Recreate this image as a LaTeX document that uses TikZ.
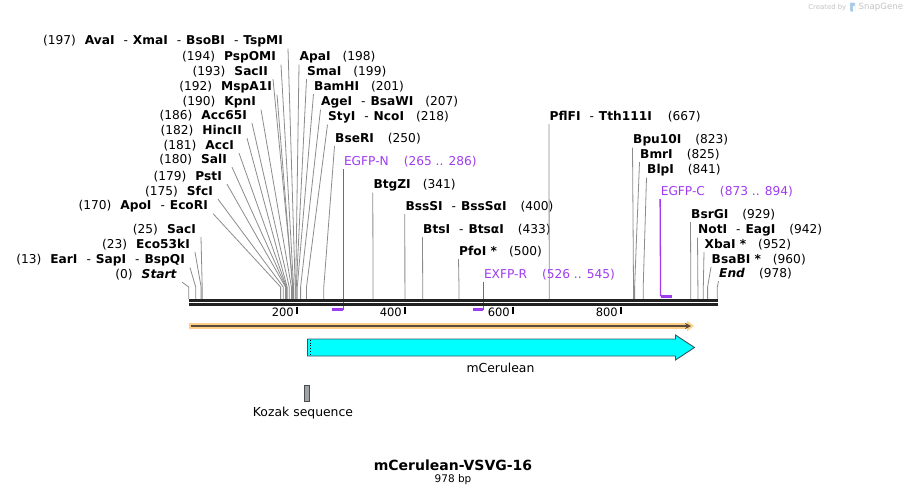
\documentclass[tikz,border=0pt]{standalone}
\usepackage{fontspec}
\setmainfont{DejaVu Sans}[ItalicFont={DejaVu Sans Oblique}, BoldItalicFont={DejaVu Sans Bold Oblique}]
\usepackage{tikz}
\usetikzlibrary{arrows.meta, calc}

\begin{document}
\begin{tikzpicture}[x=1pt, y=-1pt,
  enzL/.style={anchor=east, inner xsep=5pt, inner ysep=1.5pt, font=\fontsize{12.2}{14}\selectfont},
  enzR/.style={anchor=west, inner xsep=0.5pt, inner ysep=1.5pt, font=\fontsize{12.2}{14}\selectfont},
  primerlab/.style={enzR, text=primercol},
  cutline/.style={draw=cutgray, line width=0.8pt},
  primerline/.style={draw=primercol, line width=1.3pt},
  primerbar/.style={draw=primercol, line width=2.6pt},
  ticmark/.style={draw=black, line width=2pt},
  ticklab/.style={anchor=east, inner sep=0pt, font=\fontsize{11.5}{13}\selectfont},
  featlab/.style={inner sep=0pt, font=\fontsize{12.4}{14}\selectfont}]
% --- CORES ---
\definecolor{seqcol}{HTML}{222222}
\definecolor{cutgray}{HTML}{8C8C8C}
\definecolor{primercol}{HTML}{A03CF0}
\definecolor{orfcol}{HTML}{FCCF86}
\definecolor{orfdark}{HTML}{5A4A3C}
\definecolor{cerulean}{HTML}{00FFFF}
\definecolor{featedge}{HTML}{3A5560}
\definecolor{kozakcol}{HTML}{9EA3AA}
\definecolor{logogray}{HTML}{C4C4C4}
\definecolor{logoblue}{HTML}{A9CBE6}

% LAYER 1: fundo
\fill[white] (0,0) rectangle (907,496);
\useasboundingbox (0,0) rectangle (907,496);

% LAYER 2: cut sites (just above the sequence)
\coordinate (c0) at (188.7,287);
\coordinate (c13) at (195.7,287);
\coordinate (c23) at (201.1,287);
\coordinate (c25) at (202.2,287);
\coordinate (c170) at (280.6,287);
\coordinate (c175) at (283.3,287);
\coordinate (c179) at (285.5,287);
\coordinate (c180) at (286.0,287);
\coordinate (c181) at (286.5,287);
\coordinate (c182) at (287.1,287);
\coordinate (c186) at (289.2,287);
\coordinate (c190) at (291.4,287);
\coordinate (c192) at (292.5,287);
\coordinate (c193) at (293.0,287);
\coordinate (c194) at (293.6,287);
\coordinate (c197) at (295.2,287);
\coordinate (c198) at (295.7,287);
\coordinate (c199) at (296.3,287);
\coordinate (c201) at (297.3,287);
\coordinate (c207) at (300.6,287);
\coordinate (c218) at (306.5,287);
\coordinate (c250) at (323.8,287);
\coordinate (c341) at (373.0,287);
\coordinate (c400) at (404.9,287);
\coordinate (c433) at (422.7,287);
\coordinate (c500) at (459.0,287);
\coordinate (c667) at (549.2,287);
\coordinate (c823) at (633.5,287);
\coordinate (c825) at (634.6,287);
\coordinate (c841) at (643.2,287);
\coordinate (c929) at (690.8,287);
\coordinate (c942) at (697.9,287);
\coordinate (c952) at (703.3,287);
\coordinate (c960) at (707.6,287);
\coordinate (c978) at (717.3,287);
\coordinate (seqtop) at (0,299);

% LAYER 3: enzymes on the left
\node[enzL] (n197) at (288,41) {(197)\hspace{9pt}\textbf{AvaI}\hspace{9pt}-\hspace{5pt}\textbf{XmaI}\hspace{9pt}-\hspace{5pt}\textbf{BsoBI}\hspace{9pt}-\hspace{5pt}\textbf{TspMI}};
\node[enzL] (n194) at (281,57) {(194)\hspace{9pt}\textbf{PspOMI}};
\node[enzL] (n193) at (273,72) {(193)\hspace{9pt}\textbf{SacII}};
\node[enzL] (n192) at (277,87) {(192)\hspace{9pt}\textbf{MspA1I}};
\node[enzL] (n190) at (261,102) {(190)\hspace{9pt}\textbf{KpnI}};
\node[enzL] (n186) at (252,116) {(186)\hspace{9pt}\textbf{Acc65I}};
\node[enzL] (n182) at (247,131) {(182)\hspace{9pt}\textbf{HincII}};
\node[enzL] (n181) at (239,146) {(181)\hspace{9pt}\textbf{AccI}};
\node[enzL] (n180) at (232,160) {(180)\hspace{9pt}\textbf{SalI}};
\node[enzL] (n179) at (227,177) {(179)\hspace{9pt}\textbf{PstI}};
\node[enzL] (n175) at (218,192) {(175)\hspace{9pt}\textbf{SfcI}};
\node[enzL] (n170) at (213,206) {(170)\hspace{9pt}\textbf{ApoI}\hspace{9pt}-\hspace{5pt}\textbf{EcoRI}};
\node[enzL] (n25) at (201,230) {(25)\hspace{9pt}\textbf{SacI}};
\node[enzL] (n23) at (195,245) {(23)\hspace{9pt}\textbf{Eco53kI}};
\node[enzL] (n13) at (190,260) {(13)\hspace{9pt}\textbf{EarI}\hspace{9pt}-\hspace{5pt}\textbf{SapI}\hspace{9pt}-\hspace{5pt}\textbf{BspQI}};
\node[enzL] (n0) at (182,275) {(0)\hspace{9pt}\textbf{\textit{Start}}};

% LAYER 4: enzymes on the right
\node[enzR] (n198) at (299,57) {\textbf{ApaI}\hspace{12pt}(198)};
\node[enzR] (n199) at (306.5,72) {\textbf{SmaI}\hspace{12pt}(199)};
\node[enzR] (n201) at (313.5,87) {\textbf{BamHI}\hspace{12pt}(201)};
\node[enzR] (n207) at (320.5,102) {\textbf{AgeI}\hspace{9pt}-\hspace{5pt}\textbf{BsaWI}\hspace{12pt}(207)};
\node[enzR] (n218) at (327.5,117) {\textbf{StyI}\hspace{9pt}-\hspace{5pt}\textbf{NcoI}\hspace{12pt}(218)};
\node[enzR] (n250) at (334.5,139) {\textbf{BseRI}\hspace{14pt}(250)};
\node[enzR] (n341) at (372.8,185) {\textbf{BtgZI}\hspace{12pt}(341)};
\node[enzR] (n400) at (404.8,207) {\textbf{BssSI}\hspace{9pt}-\hspace{5pt}\textbf{BssSαI}\hspace{14pt}(400)};
\node[enzR] (n433) at (422.5,230) {\textbf{BtsI}\hspace{9pt}-\hspace{5pt}\textbf{BtsαI}\hspace{14pt}(433)};
\node[enzR] (n500) at (458.5,252) {\textbf{PfoI *}\hspace{12pt}(500)};
\node[enzR] (n667) at (549,117) {\textbf{PflFI}\hspace{9pt}-\hspace{5pt}\textbf{Tth111I}\hspace{16pt}(667)};
\node[enzR] (n823) at (632.5,140) {\textbf{Bpu10I}\hspace{14pt}(823)};
\node[enzR] (n825) at (639.5,155) {\textbf{BmrI}\hspace{14pt}(825)};
\node[enzR] (n841) at (646.5,170) {\textbf{BlpI}\hspace{14pt}(841)};
\node[enzR] (n929) at (690.5,215) {\textbf{BsrGI}\hspace{14pt}(929)};
\node[enzR] (n942) at (697.5,230) {\textbf{NotI}\hspace{9pt}-\hspace{5pt}\textbf{EagI}\hspace{14pt}(942)};
\node[enzR] (n952) at (704,245) {\textbf{XbaI *}\hspace{12pt}(952)};
\node[enzR] (n960) at (711,260) {\textbf{BsaBI *}\hspace{12pt}(960)};
\node[enzR] (n978) at (718.5,274) {\textbf{\textit{End}}\hspace{14pt}(978)};

% LAYER 5: primers
\node[primerlab] (pEGFPN) at (343.3,162) {EGFP-N\hspace{15pt}(265 .. 286)};
\node[primerlab] (pEXFPR) at (483.3,275) {EXFP-R\hspace{15pt}(526 .. 545)};
\node[primerlab] (pEGFPC) at (660.1,192) {EGFP-C\hspace{15pt}(873 .. 894)};
\coordinate (b265) at (331.9,309.5);
\coordinate (b286) at (343.3,309.5);
\coordinate (b526) at (473.0,309.5);
\coordinate (b545) at (483.3,309.5);
\coordinate (b873) at (660.6,296.3);
\coordinate (b894) at (671.9,296.3);
\draw[primerline] (pEGFPN.south west) -- (b286);
\draw[primerbar] (b265) -- (b286);
\draw[primerline] (pEXFPR.south west) -- (b545);
\draw[primerbar] (b526) -- (b545);
\draw[primerline] (pEGFPC.south west) -- (b873);
\draw[primerbar] (b873) -- (b894);

% LAYER 6: cut lines
\draw[cutline] (n197.south east) -- (c197) -- (c197 |- seqtop);
\draw[cutline] (n194.south east) -- (c194) -- (c194 |- seqtop);
\draw[cutline] (n193.south east) -- (c193) -- (c193 |- seqtop);
\draw[cutline] (n192.south east) -- (c192) -- (c192 |- seqtop);
\draw[cutline] (n190.south east) -- (c190) -- (c190 |- seqtop);
\draw[cutline] (n186.south east) -- (c186) -- (c186 |- seqtop);
\draw[cutline] (n182.south east) -- (c182) -- (c182 |- seqtop);
\draw[cutline] (n181.south east) -- (c181) -- (c181 |- seqtop);
\draw[cutline] (n180.south east) -- (c180) -- (c180 |- seqtop);
\draw[cutline] (n179.south east) -- (c179) -- (c179 |- seqtop);
\draw[cutline] (n175.south east) -- (c175) -- (c175 |- seqtop);
\draw[cutline] (n170.south east) -- (c170) -- (c170 |- seqtop);
\draw[cutline] (n25.south east) -- (c25) -- (c25 |- seqtop);
\draw[cutline] (n23.south east) -- (c23) -- (c23 |- seqtop);
\draw[cutline] (n13.south east) -- (c13) -- (c13 |- seqtop);
\draw[cutline] (n0.south east) -- (c0) -- (c0 |- seqtop);
\draw[cutline] (n198.south west) -- (c198) -- (c198 |- seqtop);
\draw[cutline] (n199.south west) -- (c199) -- (c199 |- seqtop);
\draw[cutline] (n201.south west) -- (c201) -- (c201 |- seqtop);
\draw[cutline] (n207.south west) -- (c207) -- (c207 |- seqtop);
\draw[cutline] (n218.south west) -- (c218) -- (c218 |- seqtop);
\draw[cutline] (n250.south west) -- (c250) -- (c250 |- seqtop);
\draw[cutline] (n341.south west) -- (c341) -- (c341 |- seqtop);
\draw[cutline] (n400.south west) -- (c400) -- (c400 |- seqtop);
\draw[cutline] (n433.south west) -- (c433) -- (c433 |- seqtop);
\draw[cutline] (n500.south west) -- (c500) -- (c500 |- seqtop);
\draw[cutline] (n667.south west) -- (c667) -- (c667 |- seqtop);
\draw[cutline] (n823.south west) -- (c823) -- (c823 |- seqtop);
\draw[cutline] (n825.south west) -- (c825) -- (c825 |- seqtop);
\draw[cutline] (n841.south west) -- (c841) -- (c841 |- seqtop);
\draw[cutline] (n929.south west) -- (c929) -- (c929 |- seqtop);
\draw[cutline] (n942.south west) -- (c942) -- (c942 |- seqtop);
\draw[cutline] (n952.south west) -- (c952) -- (c952 |- seqtop);
\draw[cutline] (n960.south west) -- (c960) -- (c960 |- seqtop);
\draw[cutline] (n978.south west) -- (c978) -- (c978 |- seqtop);

% LAYER 7: sequence (double line) and ruler
\coordinate (s0) at (188.7,300.6);
\coordinate (s978) at (717.8,300.6);
\draw[draw=seqcol, line width=3.2pt] (s0) -- (s978);
\draw[draw=seqcol, line width=2.7pt] ([yshift=-4.2pt]s0) -- ([yshift=-4.2pt]s978);
\draw[ticmark] (296.8,306.5) -- (296.8,314);
\draw[ticmark] (404.9,306.5) -- (404.9,314);
\draw[ticmark] (513.0,306.5) -- (513.0,314);
\draw[ticmark] (621.1,306.5) -- (621.1,314);
\node[ticklab] (t200) at (294,312.5) {200};
\node[ticklab] (t400) at (402,312.5) {400};
\node[ticklab] (t600) at (510,312.5) {600};
\node[ticklab] (t800) at (618,312.5) {800};

% LAYER 8: ORF arrow
\coordinate (o0) at (189,326);
\coordinate (oend) at (694,326);
\draw[draw=orfcol, line width=5.5pt, -{Triangle[length=7pt,width=10pt]}] (o0) -- (oend);
\draw[draw=orfdark, line width=1.8pt, -{Stealth[length=6pt,width=6pt]}] ([xshift=1.5pt]o0) -- ([xshift=-3pt]oend);

% LAYER 9: mCerulean feature
\draw[fill=cerulean, draw=featedge, line width=0.9pt] (307.5,339) -- (675.5,339) -- (675.5,335) -- (694.5,347.5) -- (675.5,360) -- (675.5,356) -- (307.5,356) -- cycle;
\draw[dotted, line width=0.9pt] (310.5,339.6) -- (310.5,355.4);
\node[featlab] (fcer) at (500.5,367.5) {mCerulean};

% LAYER 10: Kozak sequence
\draw[fill=kozakcol, draw=black!70, line width=0.8pt] (304.3,385) rectangle (309.3,401);
\node[featlab] (fkoz) at (303,413.5) {Kozak sequence};

% LAYER 11: title
\node[inner sep=0pt, font=\bfseries\fontsize{14}{16}\selectfont] (title) at (453,465) {mCerulean-VSVG-16};
\node[inner sep=0pt, font=\fontsize{10.5}{12}\selectfont] (len) at (453,479.5) {978 bp};

% LAYER 12: logo
\node[anchor=east, inner sep=0pt, text=logogray, font=\fontsize{6.9}{8}\selectfont] (made) at (846.5,7.5) {Created by};
\fill[logoblue, rounded corners=1pt] (850,2.5) rectangle (855,11.5);
\fill[white] (852.5,6) rectangle (855.2,12);
\node[anchor=west, inner sep=0pt, text=logogray, font=\fontsize{8.6}{10}\selectfont] (sgene) at (858.5,7.5) {SnapGene};
\end{tikzpicture}
\end{document}
